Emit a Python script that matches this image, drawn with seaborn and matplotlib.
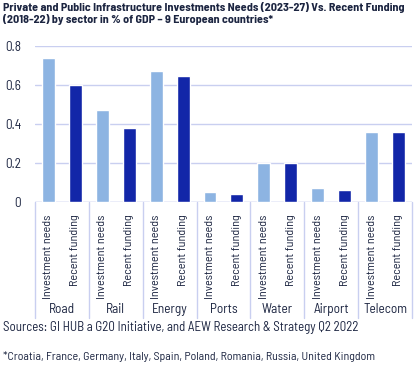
import pandas as pd
import numpy as np
import matplotlib
matplotlib.use('Agg')
import matplotlib.pyplot as plt
import seaborn as sns

# data (% of GDP)
sectors = ['Road', 'Rail', 'Energy', 'Ports', 'Water', 'Airport', 'Telecom']
series = ['Investment needs', 'Recent funding']
needs = [0.74, 0.47, 0.67, 0.05, 0.20, 0.07, 0.36]
funding = [0.60, 0.38, 0.645, 0.04, 0.20, 0.06, 0.36]

title = ('Private and Public Infrastructure Investments Needs (2023-27) Vs. Recent Funding\n'
         '(2018-22) by sector in % of GDP \u2013 9 European countries*')
source = 'Sources: GI HUB a G20 Initiative, and AEW Research & Strategy Q2 2022'
note = '*Croatia, France, Germany, Italy, Spain, Poland, Romania, Russia, United Kingdom'

rows = []
for s, n, f in zip(sectors, needs, funding):
    rows.append({'slot': s + '|' + series[0], 'series': series[0], 'value': n})
    rows.append({'slot': s + '|' + series[1], 'series': series[1], 'value': f})
df = pd.DataFrame(rows)

sns.set_style('white')
plt.rcParams['font.family'] = ['Barlow Semi Condensed', 'Roboto Condensed', 'DejaVu Sans']
txt = '#1c2541'
grid = '#c9cff0'

fig = plt.figure(figsize=(4.19, 3.69), dpi=100)
ax = fig.add_axes([0.0835, 0.4526, 0.8997, 0.4228])

sns.barplot(data=df, x='slot', y='value', hue='series', dodge=False, width=0.48,
            palette=['#8db4e2', '#1226a8'], saturation=1, legend=False, ax=ax, zorder=3)

ax.set_ylim(0, 0.8)
ax.set_xlim(-0.5, len(df) - 0.5)
ax.set_yticks([0, 0.2, 0.4, 0.6, 0.8])
ax.set_yticklabels(['0', '0.2', '0.4', '0.6', '0.8'], fontsize=9.5, color=txt)
ax.yaxis.grid(True, color=grid, linewidth=1)
for sp in ax.spines.values():
    sp.set_visible(False)
ax.axhline(0, color=grid, linewidth=1, zorder=2)

ax.set_xticks(range(len(df)))
ax.set_xticklabels([s.split('|')[1] for s in df['slot']], rotation=90,
                   fontsize=8.8, color=txt)
ax.tick_params(axis='both', length=0)
ax.tick_params(axis='x', pad=9)
ax.tick_params(axis='y', pad=10)
ax.set_xlabel('')
ax.set_ylabel('')

# group separators and sector labels
tr = ax.get_xaxis_transform()
for i in range(len(sectors) + 1):
    ax.plot([2 * i - 0.5, 2 * i - 0.5], [0, -0.745], color=grid, linewidth=1,
            transform=tr, clip_on=False)
for i, s in enumerate(sectors):
    ax.text(2 * i + 0.5, -0.69, s, transform=tr, ha='center', va='center',
            fontsize=9.6, color=txt)

fig.text(0.007, 0.995, title, ha='left', va='top', fontsize=8.7, fontweight='bold',
         color=txt, linespacing=1.15)
fig.text(0.007, 0.113, source, ha='left', va='center', fontsize=9.3, color=txt)
fig.text(0.007, 0.033, note, ha='left', va='center', fontsize=8.6, color=txt)

fig.savefig('out.png', dpi=100)
